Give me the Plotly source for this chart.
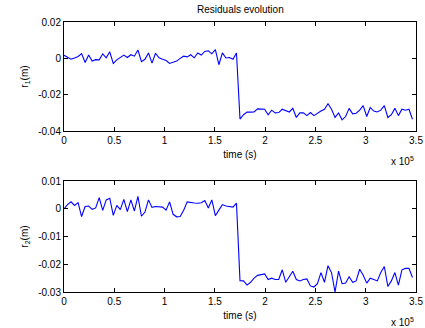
import plotly.graph_objects as go

step = 3500
n = 100
time_s = [i * step for i in range(n)]

# residual r1 (in mm, converted to m below)
r1_mm = [1.7, 0.5, -0.5, 0.2, 1.0, 2.6, -2.3, 1.9, -1.5, -0.7,
         -0.8, 2.5, 0.3, 3.6, -2.8, -0.8, 0.3, 1.8, 0.5, 2.0,
         1.2, 4.6, -1.8, -0.5, 3.0, -2.6, 2.8, 0.3, -0.5, -1.2,
         -2.8, -2.2, -1.5, 0.0, 1.2, 0.8, 2.0, 0.3, 3.0, 1.8,
         3.8, 4.2, 2.5, 4.8, -3.5, 3.0, 0.2, 0.5, -0.5, 3.0,
         -33.4, -31.0, -29.6, -29.6, -29.5, -27.8, -28.0, -28.0, -31.0, -28.5,
         -30.0, -29.8, -28.0, -28.8, -29.5, -27.5, -32.5, -30.0, -30.0, -31.5,
         -29.8, -31.5, -30.0, -29.0, -28.0, -25.0, -28.0, -32.5, -30.0, -33.8,
         -32.0, -27.5, -30.5, -30.2, -28.5, -26.0, -32.0, -27.0, -29.0, -29.5,
         -28.5, -26.0, -32.5, -31.0, -27.5, -31.5, -28.0, -28.5, -28.0, -33.5]

# residual r2 (in mm)
r2_mm = [0.0, 1.5, 2.5, 1.2, 2.2, -2.8, 0.8, 1.0, -0.2, 0.3,
         4.0, -0.6, 3.2, 3.8, -2.4, 1.2, -0.3, 3.4, -1.0, 3.2,
         -0.8, 4.5, -2.7, -1.2, 3.2, 0.5, 0.8, 0.7, 0.6, -0.5,
         2.5, -2.0, -2.9, -2.8, -0.5, 2.5, 2.2, 2.1, 2.0, 2.2,
         3.0, 0.3, 3.2, -2.5, -0.5, 1.5, 1.0, 0.8, 0.6, 2.0,
         -25.9, -26.0, -27.5, -26.5, -25.0, -24.0, -23.8, -23.5, -25.5, -25.0,
         -25.5, -25.5, -22.0, -26.5, -24.5, -22.5, -25.5, -26.0, -25.5, -25.3,
         -27.8, -28.2, -27.0, -23.0, -26.5, -20.5, -23.0, -30.0, -22.5, -27.0,
         -26.8, -24.5, -26.5, -26.0, -21.8, -24.0, -26.8, -25.0, -25.5, -26.0,
         -23.0, -20.8, -28.0, -26.0, -23.0, -27.5, -22.0, -21.5, -21.5, -24.8]

r1 = [v / 1000 for v in r1_mm]
r2 = [v / 1000 for v in r2_mm]

x_tickvals = [0, 50000, 100000, 150000, 200000, 250000, 300000, 350000]
x_ticktext = ["0", "0.5", "1", "1.5", "2", "2.5", "3", "3.5"]
y1_tickvals = [0.02, 0, -0.02, -0.04]
y1_ticktext = ["0.02", "0", "-0.02", "-0.04"]
y2_tickvals = [0.01, 0, -0.01, -0.02, -0.03]
y2_ticktext = ["0.01", "0", "-0.01", "-0.02", "-0.03"]

FONT = "Liberation Sans, Arial, Helvetica, sans-serif"
line_style = dict(color="#0000ff", width=1.1)

fig = go.Figure()
fig.add_trace(go.Scatter(x=time_s, y=r1, mode="lines", line=line_style,
                         xaxis="x", yaxis="y", showlegend=False))
fig.add_trace(go.Scatter(x=time_s, y=r2, mode="lines", line=line_style,
                         xaxis="x2", yaxis="y2", showlegend=False))

axis_common = dict(showline=True, linecolor="black", linewidth=1, mirror="ticks",
                   ticks="inside", ticklen=4, tickcolor="black", showgrid=False,
                   zeroline=False, automargin=False,
                   tickfont=dict(size=10, color="black", family=FONT))

fig.update_layout(
    width=425, height=328,
    margin=dict(l=64, r=9, t=22, b=36, autoexpand=False),
    paper_bgcolor="white", plot_bgcolor="white",
    font=dict(family=FONT, size=10, color="black"),
    xaxis=dict(domain=[0, 1], anchor="y", range=[0, 350000],
               tickvals=x_tickvals, ticktext=x_ticktext,
               title=dict(text="time (s)", standoff=5, font=dict(size=10)),
               **axis_common),
    yaxis=dict(domain=[0.596, 1], anchor="x", range=[-0.04, 0.02],
               tickvals=y1_tickvals, ticktext=y1_ticktext,
               title=dict(text="r<sub>1</sub>(m)", standoff=7, font=dict(size=10)),
               **axis_common),
    xaxis2=dict(domain=[0, 1], anchor="y2", range=[0, 350000],
                tickvals=x_tickvals, ticktext=x_ticktext,
                title=dict(text="time (s)", standoff=5, font=dict(size=10)),
                **axis_common),
    yaxis2=dict(domain=[0, 0.411], anchor="x2", range=[-0.03, 0.01],
                tickvals=y2_tickvals, ticktext=y2_ticktext,
                title=dict(text="r<sub>2</sub>(m)", standoff=7, font=dict(size=10)),
                **axis_common),
    annotations=[
        dict(text="Residuals evolution", x=0.5, y=1, xref="paper", yref="paper",
             xanchor="center", yanchor="bottom", yshift=5, showarrow=False,
             font=dict(size=10, color="black", family=FONT)),
        dict(text="x 10<sup>5</sup>", x=1, y=0.596, xref="paper", yref="paper",
             xanchor="right", yanchor="top", yshift=-22, showarrow=False,
             font=dict(size=10, color="black", family=FONT)),
        dict(text="x 10<sup>5</sup>", x=1, y=0, xref="paper", yref="paper",
             xanchor="right", yanchor="top", yshift=-22, showarrow=False,
             font=dict(size=10, color="black", family=FONT)),
    ],
)

fig.write_html("out.html", config={"displayModeBar": False},
               post_script="document.body.style.margin='0';document.body.style.overflow='hidden';")
